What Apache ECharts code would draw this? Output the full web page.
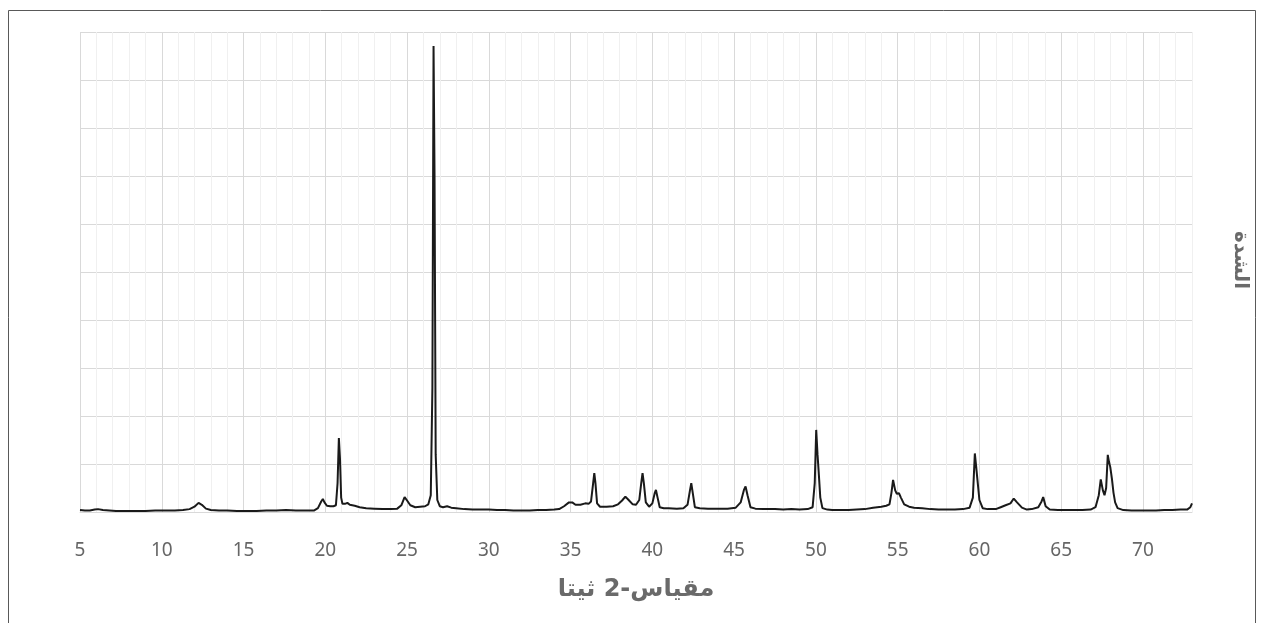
<!DOCTYPE html>
<html>
<head>
<meta charset="utf-8">
<script src="https://cdn.jsdelivr.net/npm/echarts@6/dist/echarts.min.js"></script>
<style>
html,body{margin:0;padding:0;background:#fff;}
#chart{width:1264px;height:623px;}
</style>
</head>
<body>
<div id="chart"></div>
<script>
// 2-theta positions (degrees)
const twoTheta = [
5.0,5.3,5.6,5.9,6.1,6.4,6.8,7.2,7.8,8.4,9.0,9.6,10.2,10.8,11.3,11.7,12.0,12.25,12.45,12.7,
13.0,13.5,14.0,14.6,15.2,15.8,16.4,17.0,17.6,18.2,18.8,19.3,19.55,19.75,19.85,19.95,20.1,20.3,20.5,20.65,
20.75,20.83,20.9,20.97,21.05,21.2,21.35,21.5,21.8,22.1,22.5,23.0,23.5,24.0,24.4,24.65,24.85,25.0,25.2,25.5,
25.8,26.1,26.3,26.45,26.55,26.62,26.68,26.75,26.85,27.0,27.2,27.45,27.7,28.0,28.5,29.0,29.5,30.0,30.5,31.0,
31.5,32.0,32.5,33.0,33.5,34.0,34.3,34.6,34.9,35.1,35.3,35.6,35.9,36.1,36.25,36.38,36.45,36.52,36.62,36.8,
37.2,37.6,37.9,38.15,38.35,38.55,38.8,39.0,39.2,39.32,39.4,39.48,39.6,39.8,40.0,40.15,40.22,40.32,40.45,40.7,
41.0,41.5,41.9,42.15,42.3,42.38,42.47,42.6,42.9,43.4,44.0,44.6,45.1,45.4,45.6,45.7,45.82,46.0,46.3,46.8,
47.5,48.0,48.5,49.0,49.5,49.8,49.93,50.02,50.1,50.17,50.27,50.4,50.7,51.0,51.5,52.0,52.5,53.0,53.5,54.0,
54.3,54.5,54.62,54.72,54.85,54.95,55.08,55.2,55.4,55.7,56.0,56.5,57.0,57.5,58.0,58.5,59.0,59.4,59.6,59.72,
59.8,59.88,60.0,60.2,60.5,61.0,61.3,61.6,61.9,62.1,62.3,62.6,62.9,63.2,63.6,63.8,63.9,64.05,64.3,64.8,
65.3,65.8,66.3,66.8,67.1,67.3,67.42,67.55,67.65,67.75,67.85,67.92,68.0,68.1,68.2,68.3,68.45,68.8,69.3,69.8,
70.3,70.8,71.3,71.8,72.3,72.7,72.9,73.0
];
// Intensity (arbitrary units)
const intensity = [
4,3,3,5,6,4,3,2,2,2,2,3,3,3,4,6,11,19,15,7,
4,3,3,2,2,2,3,3,4,3,3,3,8,22,27,20,13,12,12,14,
60,154,110,30,17,17,19,15,13,10,8,7,6,6,7,14,31,24,14,10,
11,12,16,35,260,971,700,120,25,12,10,12,9,8,6,5,5,5,4,4,
3,3,3,4,4,5,6,12,20,20,15,15,18,17,22,60,81,60,18,11,
11,12,16,24,32,25,16,15,25,60,81,60,20,11,18,40,46,30,10,8,
8,7,8,15,45,60,40,10,8,7,7,7,9,20,46,53,35,10,7,6,
6,5,6,5,6,10,60,171,120,84,30,8,5,4,4,4,5,6,9,11,
13,16,40,67,45,38,39,30,16,11,9,8,6,5,5,5,6,9,30,122,
95,67,25,8,6,6,10,14,18,28,20,9,5,6,10,22,31,12,5,4,
4,4,4,5,10,35,68,45,35,50,119,105,94,70,40,20,8,4,3,3,
3,3,4,4,5,5,10,18
];
const xTitle = 'مقياس-2 ثيتا';
const yTitle = 'الشدة';

const seriesData = twoTheta.map((t, i) => [t, intensity[i]]);

const chart = echarts.init(document.getElementById('chart'), null, {renderer: 'canvas'});
const major = '#d9d9d9', minor = '#f0f0f0';
chart.setOption({
  animation: false,
  backgroundColor: '#ffffff',
  graphic: [{
    type: 'rect',
    shape: {x: 8.5, y: 10.5, width: 1247, height: 640},
    style: {fill: 'none', stroke: '#595959', lineWidth: 1}
  }, {
    type: 'text', x: 1240, y: 260, rotation: -Math.PI / 2,
    style: {text: yTitle, fontSize: 20, fontWeight: 'bold', fill: '#6a6a6a',
      fontFamily: 'DejaVu Sans', align: 'center', verticalAlign: 'middle'}
  }],
  grid: {left: 80, right: 72, top: 32, bottom: 111, containLabel: false},
  xAxis: {
    type: 'value', min: 5, max: 73, interval: 1,
    name: xTitle, nameLocation: 'middle', nameGap: 66,
    nameTextStyle: {fontSize: 24, fontWeight: 'bold', color: '#6a6a6a', fontFamily: 'DejaVu Sans'},
    axisLine: {show: true, lineStyle: {color: major, width: 1}},
    axisTick: {show: false},
    axisLabel: {
      color: '#666666', fontSize: 19, fontFamily: 'Noto Sans', margin: 29,
      showMaxLabel: false,
      formatter: v => (Math.round(v) % 5 === 0 ? String(Math.round(v)) : '')
    },
    splitLine: {show: true, lineStyle: {color: [major, minor, minor, minor, minor], width: 1}}
  },
  yAxis: {
    type: 'value', min: 0, max: 1000, interval: 100, position: 'right',
    axisLine: {show: false}, axisTick: {show: false}, axisLabel: {show: false},
    splitLine: {show: true, lineStyle: {color: major, width: 1}}
  },
  series: [{
    type: 'line', data: seriesData, showSymbol: false, symbol: 'none',
    lineStyle: {color: '#1a1a1a', width: 2}, z: 5
  }]
}, true);
</script>
</body>
</html>
